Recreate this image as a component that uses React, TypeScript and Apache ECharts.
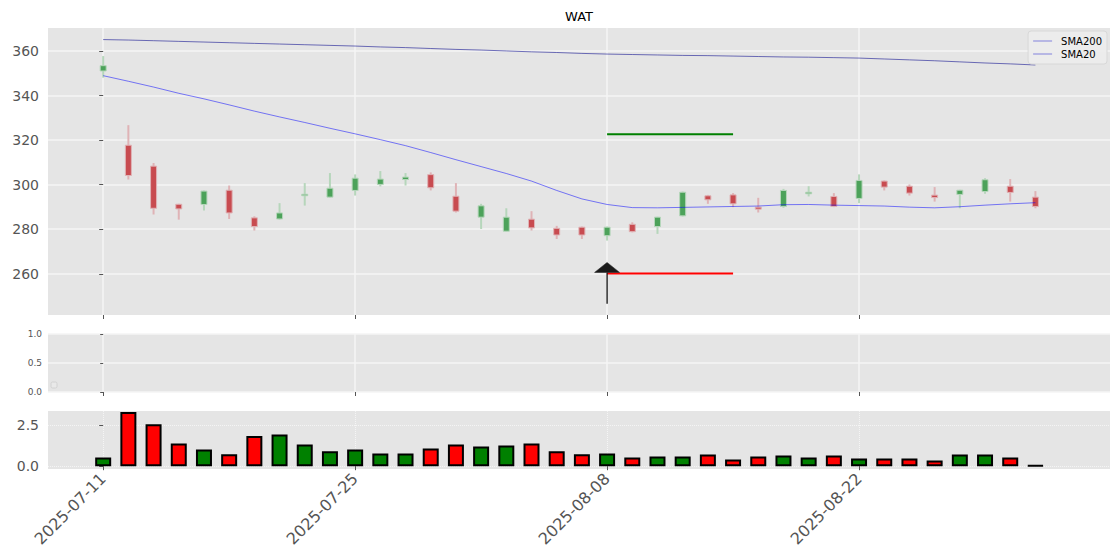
import React, { useEffect, useRef } from "react";
import * as echarts from "echarts";

const dates = [
  "2025-07-11", "2025-07-14", "2025-07-15", "2025-07-16", "2025-07-17", "2025-07-18",
  "2025-07-21", "2025-07-22", "2025-07-23", "2025-07-24", "2025-07-25", "2025-07-28",
  "2025-07-29", "2025-07-30", "2025-07-31", "2025-08-01", "2025-08-04", "2025-08-05",
  "2025-08-06", "2025-08-07", "2025-08-08", "2025-08-11", "2025-08-12", "2025-08-13",
  "2025-08-14", "2025-08-15", "2025-08-18", "2025-08-19", "2025-08-20", "2025-08-21",
  "2025-08-22", "2025-08-25", "2025-08-26", "2025-08-27", "2025-08-28", "2025-08-29",
  "2025-09-02", "2025-09-03",
];

// [open, close, low, high]
const ohlc: number[][] = [
  [351.0, 353.4, 348.0, 357.7],
  [317.7, 304.1, 302.3, 326.7],
  [308.3, 289.4, 286.6, 309.7],
  [291.2, 289.1, 284.3, 291.4],
  [291.1, 297.1, 288.4, 297.4],
  [297.5, 287.3, 284.6, 299.6],
  [285.1, 281.2, 279.4, 285.8],
  [284.6, 287.3, 284.3, 291.7],
  [295.1, 295.7, 290.6, 300.7],
  [294.4, 298.4, 294.2, 305.2],
  [297.4, 302.9, 295.1, 304.6],
  [300.1, 302.5, 299.2, 306.1],
  [302.3, 303.4, 299.6, 305.2],
  [304.5, 298.6, 297.4, 305.5],
  [294.8, 288.1, 287.5, 300.7],
  [285.4, 290.5, 280.1, 291.4],
  [279.1, 285.4, 279.0, 289.4],
  [284.5, 280.6, 279.4, 288.1],
  [280.4, 277.4, 275.6, 281.5],
  [280.9, 277.4, 275.6, 281.2],
  [277.1, 280.9, 274.9, 281.2],
  [282.2, 278.9, 278.6, 283.1],
  [281.2, 285.4, 277.9, 285.6],
  [286.0, 296.6, 285.7, 296.9],
  [295.0, 293.2, 291.4, 295.4],
  [295.4, 291.4, 289.9, 296.2],
  [289.9, 289.0, 287.5, 294.1],
  [290.2, 297.4, 289.6, 298.1],
  [295.9, 296.6, 294.7, 299.3],
  [294.7, 290.2, 289.9, 296.2],
  [293.8, 301.9, 291.7, 304.6],
  [301.6, 298.9, 297.4, 301.9],
  [299.3, 296.2, 295.1, 300.1],
  [295.3, 294.2, 292.4, 298.9],
  [295.6, 297.5, 289.4, 297.7],
  [296.9, 302.2, 295.9, 302.9],
  [299.3, 296.5, 292.4, 302.5],
  [294.4, 290.2, 289.4, 297.1],
];

const volume = [
  0.53, 3.29, 2.54, 1.38, 1.02, 0.73, 1.83, 1.93, 1.32, 0.90,
  1.02, 0.77, 0.77, 1.08, 1.32, 1.20, 1.26, 1.38, 0.90, 0.73,
  0.77, 0.53, 0.59, 0.59, 0.71, 0.41, 0.59, 0.65, 0.53, 0.65,
  0.47, 0.47, 0.47, 0.35, 0.71, 0.71, 0.53, 0.04,
];

const sma200 = [
  365.1, 364.9, 364.6, 364.3, 364.0, 363.7, 363.4, 363.1, 362.8, 362.5,
  362.2, 361.8, 361.5, 361.1, 360.7, 360.4, 360.0, 359.6, 359.3, 358.9,
  358.6, 358.4, 358.2, 358.0, 357.9, 357.7, 357.5, 357.3, 357.2, 357.0,
  356.8, 356.4, 356.0, 355.6, 355.1, 354.6, 354.2, 353.7,
];

const sma20 = [
  348.9, 346.4, 343.8, 341.0, 338.5, 335.8, 333.0, 330.4, 327.9, 325.3,
  322.8, 320.2, 317.5, 314.4, 311.2, 308.1, 305.0, 301.6, 297.4, 293.6,
  291.1, 289.7, 289.6, 289.8, 290.0, 290.2, 290.4, 291.0, 291.1, 290.8,
  290.6, 290.4, 289.9, 289.6, 290.1, 290.8, 291.4, 291.9,
];

const targetLine = { from: 20, to: 25, value: 322.6 };
const stopLine = { from: 20, to: 25, value: 260.1 };
const arrow = { x: 20, tail: 246.6, head: 265.1 };

const tickIdx = [0, 10, 20, 30];
const priceTicks = [260, 280, 300, 320, 340, 360];
const volTicks = [0, 2.5];

const X_MIN = -2.19;
const X_MAX = 39.96;
const FONT = "DejaVu Sans";
const TICK_COLOR = "#555555";

export default function App() {
  const ref = useRef<HTMLDivElement>(null);

  useEffect(() => {
    if (!ref.current) return;
    const chart = echarts.init(ref.current, undefined, { renderer: "svg" });

    const upColor = "#4ca25a";
    const downColor = "#c84b50";
    const upWick = "#b6d6bb";
    const downWick = "#dfb3b6";

    const candleData = ohlc.map((d, i) => [i, d[0], d[1], d[2], d[3]]);
    const volData = volume.map((v, i) => ({
      value: [i, v],
      itemStyle: { color: ohlc[i][1] >= ohlc[i][0] ? "#008000" : "#ff0000" },
    }));

    const gridLine = { show: true, lineStyle: { color: "#f4f4f4", width: 1.5 } };

    const makeX = (gridIndex: number, labels: boolean, faint: boolean) => ({
      type: "value",
      gridIndex,
      min: X_MIN,
      max: X_MAX,
      axisLine: { show: false },
      axisTick: {
        show: true,
        customValues: tickIdx,
        length: 4,
        lineStyle: { color: TICK_COLOR, width: 1 },
      },
      axisLabel: labels
        ? {
            show: true,
            customValues: tickIdx,
            rotate: 45,
            margin: 7,
            fontSize: 16,
            fontFamily: FONT,
            color: TICK_COLOR,
            formatter: (v: number) => dates[Math.round(v)] ?? "",
          }
        : { show: false, customValues: tickIdx },
      splitLine: faint
        ? { show: true, lineStyle: { color: "rgba(255,255,255,0.6)", width: 1, type: "dotted" } }
        : gridLine,
    });

    const option: any = {
      animation: false,
      backgroundColor: "#ffffff",
      graphic: [
        {
          type: "text",
          x: 579,
          y: 16,
          style: {
            text: "WAT",
            align: "center",
            verticalAlign: "middle",
            fontSize: 13,
            fontFamily: FONT,
            fill: "#000000",
          },
        },
        {
          type: "rect",
          shape: { x: 51, y: 382, width: 6, height: 6, r: 1.5 },
          style: { fill: "#e9e9e9", stroke: "#d2d2d2", lineWidth: 1 },
          z: 100,
        },
      ],
      legend: {
        data: ["SMA200", "SMA20"],
        orient: "vertical",
        right: 13,
        top: 31,
        icon: "rect",
        itemWidth: 19,
        itemHeight: 1.5,
        itemGap: 3,
        padding: [5, 5, 5, 5],
        itemStyle: { color: "#a6a6e2" },
        backgroundColor: "rgba(236,236,236,0.9)",
        borderColor: "#d8d8d8",
        borderWidth: 1,
        borderRadius: 3,
        textStyle: { fontSize: 10, fontFamily: FONT, color: "#000", padding: [0, 0, 0, 4] },
      },
      grid: [
        { left: 48, right: 10, top: 28, height: 287, show: true, backgroundColor: "#e5e5e5", borderWidth: 0 },
        { left: 48, right: 10, top: 334, height: 58, show: true, backgroundColor: "#e5e5e5", borderWidth: 0 },
        { left: 48, right: 10, top: 411, height: 58, show: true, backgroundColor: "#e5e5e5", borderWidth: 0 },
      ],
      xAxis: [makeX(0, false, false), makeX(1, false, false), makeX(2, true, true)],
      yAxis: [
        {
          type: "value",
          gridIndex: 0,
          min: 241.5,
          max: 370.3,
          axisLine: { show: false },
          axisTick: { show: true, customValues: priceTicks, length: 4, lineStyle: { color: TICK_COLOR } },
          axisLabel: {
            customValues: priceTicks,
            margin: 9,
            fontSize: 14,
            fontFamily: FONT,
            color: TICK_COLOR,
            formatter: (v: number) => String(v),
          },
          splitLine: gridLine,
        },
        {
          type: "value",
          gridIndex: 1,
          min: 0,
          max: 1,
          interval: 0.5,
          axisLine: { show: false },
          axisTick: { show: true, length: 3, lineStyle: { color: TICK_COLOR } },
          axisLabel: {
            margin: 6,
            fontSize: 9,
            fontFamily: FONT,
            color: TICK_COLOR,
            formatter: (v: number) => v.toFixed(1),
          },
          splitLine: gridLine,
        },
        {
          type: "value",
          gridIndex: 2,
          min: -0.17,
          max: 3.35,
          axisLine: { show: false },
          axisTick: { show: true, customValues: volTicks, length: 4, lineStyle: { color: TICK_COLOR } },
          axisLabel: {
            customValues: volTicks,
            margin: 9,
            fontSize: 14,
            fontFamily: FONT,
            color: TICK_COLOR,
            formatter: (v: number) => v.toFixed(1),
          },
          splitLine: { show: true, lineStyle: { color: "rgba(255,255,255,0.6)", width: 1, type: "dotted" } },
        },
      ],
      series: [
        {
          type: "custom",
          name: "candles",
          xAxisIndex: 0,
          yAxisIndex: 0,
          data: candleData,
          encode: { x: 0, y: [1, 2, 3, 4] },
          z: 2,
          renderItem: (params: any, api: any) => {
            const x = api.value(0);
            const o = api.value(1);
            const c = api.value(2);
            const l = api.value(3);
            const h = api.value(4);
            const up = c >= o;
            const pO = api.coord([x, o]);
            const pC = api.coord([x, c]);
            const pL = api.coord([x, l]);
            const pH = api.coord([x, h]);
            const top = Math.min(pO[1], pC[1]);
            const hgt = Math.max(Math.abs(pO[1] - pC[1]), 1.5);
            return {
              type: "group",
              children: [
                {
                  type: "line",
                  shape: { x1: pH[0], y1: pH[1], x2: pL[0], y2: pL[1] },
                  style: { stroke: up ? upWick : downWick, lineWidth: 2 },
                },
                {
                  type: "rect",
                  shape: { x: pO[0] - 3, y: top, width: 6, height: hgt },
                  style: { fill: up ? upColor : downColor, stroke: up ? upWick : downWick, lineWidth: 1 },
                },
              ],
            };
          },
        },
        {
          type: "line",
          name: "SMA200",
          xAxisIndex: 0,
          yAxisIndex: 0,
          data: sma200.map((v, i) => [i, v]),
          symbol: "none",
          lineStyle: { color: "rgba(0,0,139,0.55)", width: 1 },
          itemStyle: { color: "rgba(0,0,139,0.55)" },
          z: 3,
        },
        {
          type: "line",
          name: "SMA20",
          xAxisIndex: 0,
          yAxisIndex: 0,
          data: sma20.map((v, i) => [i, v]),
          symbol: "none",
          lineStyle: { color: "rgba(0,0,255,0.5)", width: 1 },
          itemStyle: { color: "rgba(0,0,255,0.5)" },
          z: 3,
        },
        {
          type: "line",
          name: "target",
          xAxisIndex: 0,
          yAxisIndex: 0,
          data: [
            [targetLine.from, targetLine.value],
            [targetLine.to, targetLine.value],
          ],
          symbol: "none",
          lineStyle: { color: "#008000", width: 2 },
          z: 4,
        },
        {
          type: "line",
          name: "stop",
          xAxisIndex: 0,
          yAxisIndex: 0,
          data: [
            [stopLine.from, stopLine.value],
            [stopLine.to, stopLine.value],
          ],
          symbol: "none",
          lineStyle: { color: "#ff0000", width: 2 },
          z: 4,
        },
        {
          type: "custom",
          name: "arrow",
          xAxisIndex: 0,
          yAxisIndex: 0,
          data: [[arrow.x, arrow.tail, arrow.head]],
          encode: { x: 0, y: [1, 2] },
          z: 5,
          renderItem: (params: any, api: any) => {
            const x = api.value(0);
            const pT = api.coord([x, api.value(1)]);
            const pH = api.coord([x, api.value(2)]);
            const baseY = pH[1] + 10;
            return {
              type: "group",
              children: [
                {
                  type: "line",
                  shape: { x1: pT[0], y1: pT[1], x2: pT[0], y2: baseY },
                  style: { stroke: "#111111", lineWidth: 1.3 },
                },
                {
                  type: "polygon",
                  shape: {
                    points: [
                      [pH[0], pH[1]],
                      [pH[0] - 12.5, baseY],
                      [pH[0] + 12.5, baseY],
                    ],
                  },
                  style: { fill: "#1a1a1a", stroke: "#1a1a1a", lineWidth: 0.5 },
                },
              ],
            };
          },
        },
        {
          type: "bar",
          name: "volume",
          xAxisIndex: 2,
          yAxisIndex: 2,
          data: volData,
          barWidth: 16,
          itemStyle: { borderColor: "#000000", borderWidth: 2 },
        },
      ],
    };

    chart.setOption(option);
    return () => {
      chart.dispose();
    };
  }, []);

  return (
    <div
      ref={ref}
      style={{ position: "fixed", left: 0, top: 0, width: 1120, height: 560 }}
    />
  );
}
